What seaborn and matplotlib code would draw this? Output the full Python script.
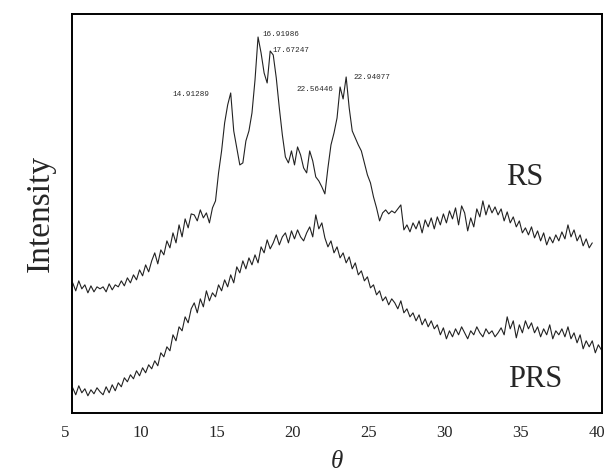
import numpy as np
import pandas as pd
import matplotlib
matplotlib.use("Agg")
import matplotlib.pyplot as plt
import seaborn as sns

# 2-theta sampling (degrees), step 0.2
theta = np.round(5.5 + 0.2 * np.arange(175), 2)

rs = [
    130, 122, 132, 124, 128, 120, 127, 121, 126, 124,
    126, 121, 129, 123, 128, 126, 132, 127, 135, 130,
    138, 133, 143, 137, 148, 141, 152, 160, 149, 163,
    158, 172, 165, 180, 170, 188, 176, 194, 185, 199,
    198, 192, 203, 195, 200, 190, 205, 212, 240, 262,
    290, 308, 320, 282, 265, 248, 250, 272, 282, 300,
    333, 376, 360, 340, 330, 362, 358, 335, 305, 278,
    256, 250, 262, 248, 266, 258, 245, 240, 262, 252,
    236, 232, 226, 219, 245, 268, 280, 295, 326, 314,
    336, 305, 282, 275, 268, 262, 250, 238, 230, 216,
    205, 192, 200, 203, 199, 202, 200, 204, 208, 183,
    188, 181, 190, 184, 192, 180, 193, 186, 195, 184,
    196, 188, 199, 190, 202, 194, 205, 188, 207, 200,
    182, 195, 186, 204, 196, 212, 198, 208, 200, 206,
    198, 204, 192, 201, 190, 196, 186, 192, 180, 185,
    178, 186, 175, 182, 172, 180, 168, 176, 170, 178,
    172, 181, 174, 188, 176, 183, 172, 178, 167, 174,
    165, 170,
]

prs = [
    25, 18, 27, 20, 24, 17, 23, 19, 25, 21,
    18, 26, 20, 28, 22, 30, 26, 35, 31, 38,
    34, 42, 37, 45, 40, 48, 44, 52, 47, 60,
    56, 66, 62, 78, 72, 86, 82, 96, 90, 104,
    110, 100, 114, 106, 122, 112, 120, 116, 128, 122,
    133, 126, 138, 130, 146, 140, 152, 144, 155, 148,
    158, 150, 166, 160, 173, 164, 170, 178, 168, 176,
    180, 170, 182, 174, 183, 176, 172, 180, 186, 176,
    198, 184, 190, 175, 166, 172, 160, 166, 155, 160,
    150, 156, 144, 150, 138, 142, 132, 136, 125, 128,
    118, 122, 112, 116, 108, 114, 110, 104, 112, 100,
    104, 96, 100, 92, 98, 88, 94, 86, 92, 84,
    88, 78, 85, 74, 82, 76, 84, 78, 86, 80,
    74, 82, 78, 86, 80, 76, 84, 79, 82, 76,
    80, 85, 78, 96, 84, 92, 75, 88, 80, 92,
    84, 90, 80, 86, 76, 84, 78, 88, 74, 82,
    78, 84, 76, 86, 74, 80, 70, 78, 64, 72,
    66, 72, 60, 68, 63,
]

peak_labels = ["14.91289", "16.91986", "17.67247", "22.56446", "22.94077"]
peak_label_x = [12.04, 17.96, 18.62, 20.26, 23.95]
peak_label_y = [318, 378, 362, 323, 335]

series_names = ["RS", "PRS"]
xtick_values = [5, 10, 15, 20, 25, 30, 35, 40]

df = pd.concat([
    pd.DataFrame({"theta": theta[:len(rs)], "I": rs, "s": "RS"}),
    pd.DataFrame({"theta": theta[:len(prs)], "I": prs, "s": "PRS"}),
])

sns.set_style("white")
plt.rcParams["font.family"] = ["Liberation Serif", "DejaVu Serif"]

fig = plt.figure(figsize=(6.11, 4.75), dpi=100)
ax = fig.add_axes([0.118, 0.131, 0.867, 0.8395])

sns.lineplot(data=df, x="theta", y="I", units="s", estimator=None,
             color="#222222", linewidth=0.8, sort=False, ax=ax, legend=False)

ax.set_xlim(5.46, 40.33)
ax.set_ylim(0, 399)

for sp in ax.spines.values():
    sp.set_linewidth(1.4)
    sp.set_color("black")

ax.set_yticks([])
ax.set_xticks([t for t in xtick_values if t > 5.46])
ax.set_xticklabels([str(t) for t in xtick_values if t > 5.46])
ax.tick_params(axis="x", length=0, pad=9, labelsize=12)
ax.text(5.0, -0.031, "5", transform=ax.get_xaxis_transform(), ha="center",
        va="top", fontsize=12, clip_on=False)

ax.set_xlabel("θ", fontsize=18, style="italic", labelpad=7)
ax.set_ylabel("Intensity", fontsize=24, labelpad=12)

for lab, lx, ly in zip(peak_labels, peak_label_x, peak_label_y):
    ax.text(lx, ly, lab, fontsize=5.5, ha="left", va="center",
            family=["Liberation Mono", "DejaVu Sans Mono"])

ax.text(35.26, 235, series_names[0], fontsize=22, ha="center", va="center")
ax.text(35.92, 33, series_names[1], fontsize=22, ha="center", va="center")

fig.savefig("out.png", dpi=100)
